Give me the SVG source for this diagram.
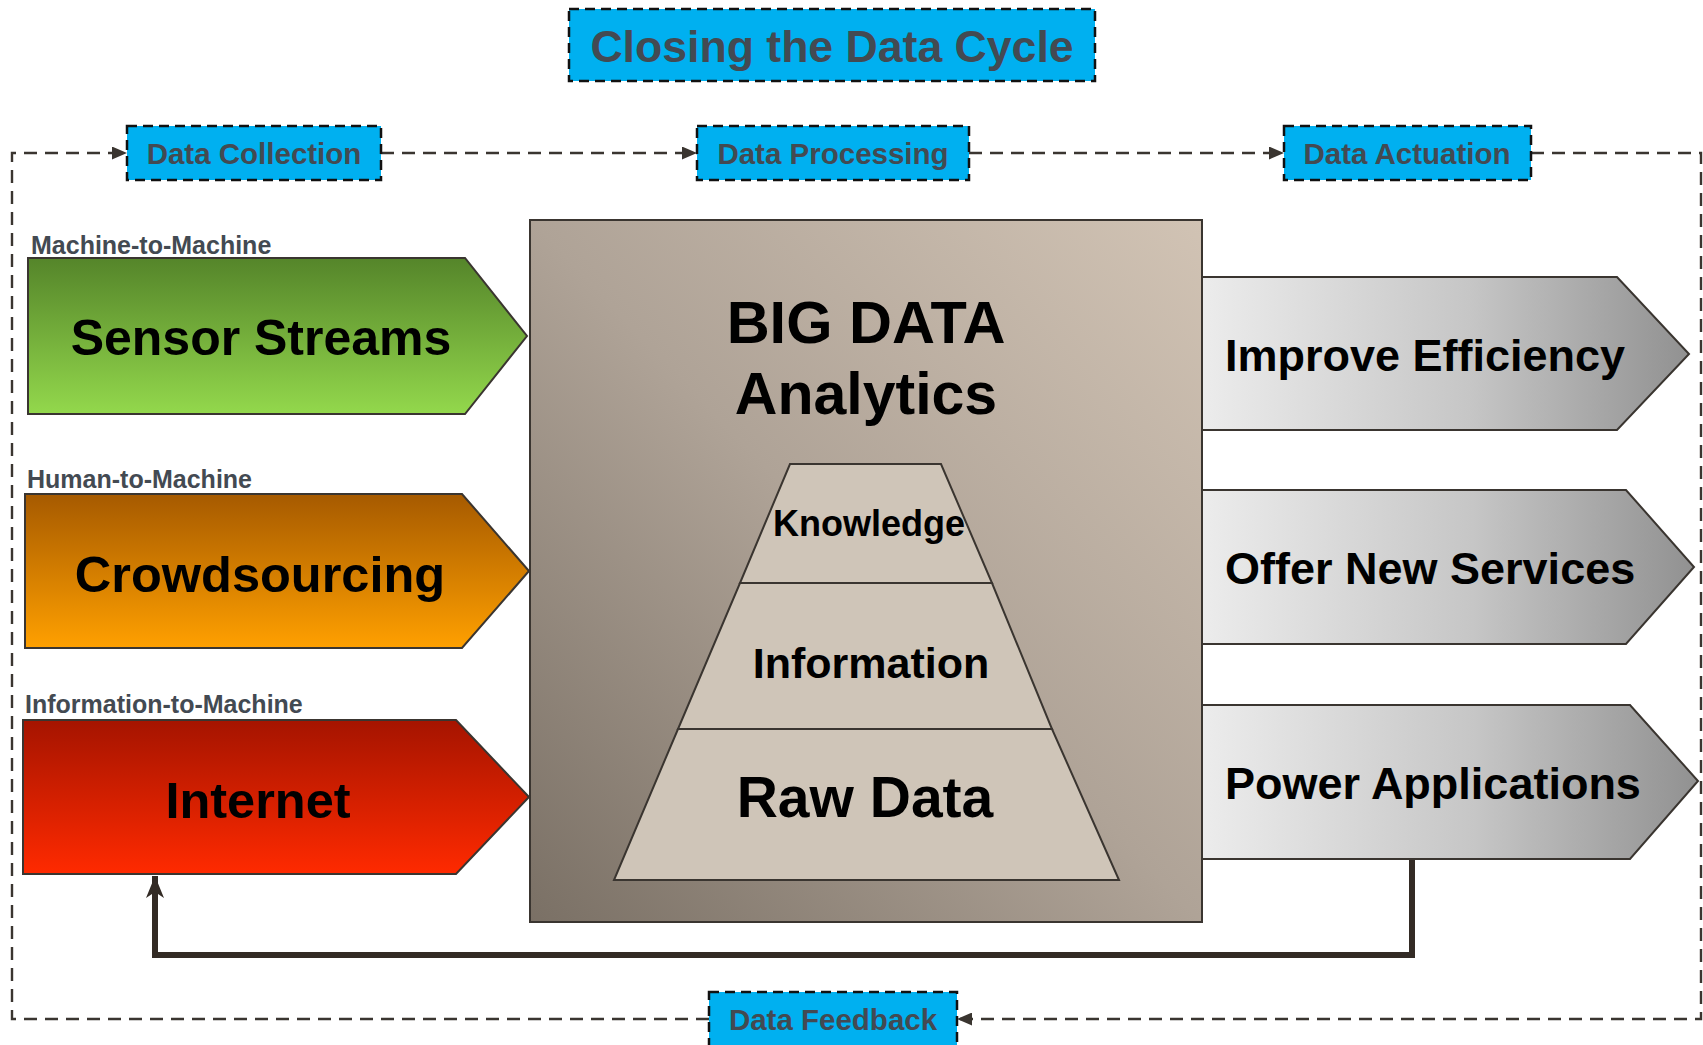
<svg xmlns="http://www.w3.org/2000/svg" width="1703" height="1045" viewBox="0 0 1703 1045">
<defs>
<style>
text{font-family:"Liberation Sans",Arial,sans-serif;font-weight:bold}
.lbl{fill:#434a52;font-size:29.5px;text-anchor:middle}
.phase{fill:#00b0f0;stroke:#111;stroke-width:2.5;stroke-dasharray:10 6}
.loop{fill:none;stroke:#3a3530;stroke-width:2.4;stroke-dasharray:13 8}
.sub{fill:#434a52;font-size:25px}
.big{fill:#000;text-anchor:middle}
.shape{stroke:#3a3530;stroke-width:2}
.rt{fill:#000;font-size:45px}
.pyr{fill:#cfc5b8;stroke:#3a3530;stroke-width:2}
</style>
<marker id="ah" viewBox="0 0 15 13" markerWidth="15" markerHeight="13" refX="15" refY="6.5" orient="auto" markerUnits="userSpaceOnUse">
<path d="M0,0 L15,6.5 L0,13 z" fill="#3a3530"/>
</marker>
<marker id="fb" viewBox="0 0 22 18" markerWidth="22" markerHeight="18" refX="22" refY="9" orient="auto" markerUnits="userSpaceOnUse">
<path d="M0,0 L22,9 L0,18 L6,9 z" fill="#332b25"/>
</marker>
<linearGradient id="gGreen" x1="0" y1="0" x2="0" y2="1">
<stop offset="0" stop-color="#55852a"/><stop offset="1" stop-color="#93d84c"/>
</linearGradient>
<linearGradient id="gOrange" x1="0" y1="0" x2="0" y2="1">
<stop offset="0" stop-color="#a65a00"/><stop offset="1" stop-color="#ffa000"/>
</linearGradient>
<linearGradient id="gRed" x1="0" y1="0" x2="0" y2="1">
<stop offset="0" stop-color="#a51400"/><stop offset="1" stop-color="#ff2a00"/>
</linearGradient>
<linearGradient id="gGray" x1="0" y1="0" x2="1" y2="0">
<stop offset="0" stop-color="#ececec"/><stop offset="0.55" stop-color="#c6c6c6"/><stop offset="1" stop-color="#919191"/>
</linearGradient>
<linearGradient id="gCenter" x1="0" y1="1" x2="1" y2="0">
<stop offset="0" stop-color="#7a7065"/><stop offset="0.5" stop-color="#afa397"/><stop offset="1" stop-color="#d1c3b4"/>
</linearGradient>
</defs>

<g id="connectors">
<path class="loop" d="M709,1019 H12 V153 H127" marker-end="url(#ah)"/>
<path class="loop" d="M381,153 H697" marker-end="url(#ah)"/>
<path class="loop" d="M969,153 H1284" marker-end="url(#ah)"/>
<path class="loop" d="M1531,153 H1701 V1019 H957" marker-end="url(#ah)"/>
<path d="M1412,859 V955 H155 V876" fill="none" stroke="#332b25" stroke-width="6" marker-end="url(#fb)"/>
</g>

<g id="title">
<rect x="569" y="9" width="526" height="72" class="phase"/>
<text x="832" y="62" class="lbl" style="font-size:44.6px">Closing the Data Cycle</text>
</g>

<g id="data-collection">
<rect x="127" y="126" width="254" height="54" class="phase"/>
<text x="254" y="164" class="lbl">Data Collection</text>
</g>
<g id="data-processing">
<rect x="697" y="126" width="272" height="54" class="phase"/>
<text x="833" y="164" class="lbl">Data Processing</text>
</g>
<g id="data-actuation">
<rect x="1284" y="126" width="247" height="54" class="phase"/>
<text x="1407" y="164" class="lbl">Data Actuation</text>
</g>
<g id="data-feedback">
<rect x="709" y="992" width="248" height="60" class="phase"/>
<text x="833" y="1030" class="lbl">Data Feedback</text>
</g>

<g id="sensor-streams">
<text x="31" y="254" class="sub">Machine-to-Machine</text>
<path class="shape" d="M28,258 H465 L527,336 L465,414 H28 z" fill="url(#gGreen)"/>
<text x="261" y="355" class="big" style="font-size:50px">Sensor Streams</text>
</g>
<g id="crowdsourcing">
<text x="27" y="488" class="sub">Human-to-Machine</text>
<path class="shape" d="M25,494 H462 L529,571 L462,648 H25 z" fill="url(#gOrange)"/>
<text x="260" y="592" class="big" style="font-size:50.5px">Crowdsourcing</text>
</g>
<g id="internet">
<text x="25" y="713" class="sub">Information-to-Machine</text>
<path class="shape" d="M23,720 H456 L529,797 L456,874 H23 z" fill="url(#gRed)"/>
<text x="258" y="818" class="big" style="font-size:50.5px">Internet</text>
</g>

<g id="improve-efficiency">
<path class="shape" d="M1202,277 H1617 L1689,354 L1617,430 H1202 z" fill="url(#gGray)"/>
<text x="1225" y="371" class="rt">Improve Efficiency</text>
</g>
<g id="offer-new-services">
<path class="shape" d="M1202,490 H1626 L1694,567 L1626,644 H1202 z" fill="url(#gGray)"/>
<text x="1225" y="584" class="rt">Offer New Services</text>
</g>
<g id="power-applications">
<path class="shape" d="M1202,705 H1630 L1698,781 L1630,859 H1202 z" fill="url(#gGray)"/>
<text x="1225" y="799" class="rt">Power Applications</text>
</g>

<g id="big-data-analytics">
<rect x="530" y="220" width="672" height="702" class="shape" fill="url(#gCenter)"/>
<text x="866" y="343" class="big" style="font-size:59.5px">BIG DATA</text>
<text x="866" y="414" class="big" style="font-size:59px">Analytics</text>
</g>

<g id="knowledge">
<path class="pyr" d="M790,464 H941 L992,583 H740 z"/>
<text x="869" y="536" class="big" style="font-size:36px">Knowledge</text>
</g>
<g id="information">
<path class="pyr" d="M740,583 H992 L1052,729 H678 z"/>
<text x="871" y="678" class="big" style="font-size:43px">Information</text>
</g>
<g id="raw-data">
<path class="pyr" d="M678,729 H1052 L1119,880 H614 z"/>
<text x="865" y="817" class="big" style="font-size:57px">Raw Data</text>
</g>
</svg>
